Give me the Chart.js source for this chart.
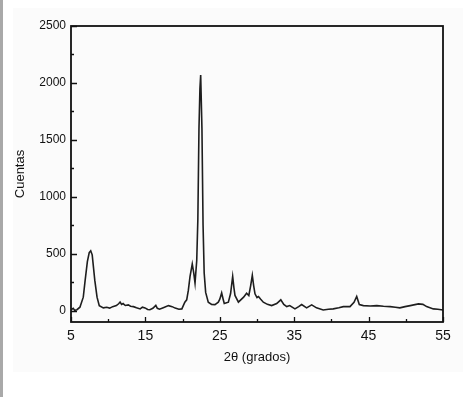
<!DOCTYPE html>
<html>
<head>
<meta charset="utf-8">
<script src="https://cdn.jsdelivr.net/npm/chart.js@4/dist/chart.umd.min.js"></script>
<style>
    html, body { margin: 0; padding: 0; background: #fff; }
    #wrap { width: 474px; height: 402px; position: relative; }
</style>
</head>
<body>
<div id="wrap"><canvas id="myChart"></canvas></div>
<script>
// 2theta positions (degrees) and counts
var twoTheta = [5.0, 5.3, 5.5, 5.8, 6.2, 6.65, 6.9, 7.2, 7.45, 7.65, 7.85, 8.2, 8.5, 8.8, 9.35, 9.8,
    10.2, 10.6, 11.1, 11.4, 11.6, 11.8, 12.0, 12.3, 12.7, 13.0, 13.4, 13.8, 14.3, 14.6, 14.95, 15.3,
    15.6, 16.0, 16.4, 16.6, 16.9, 17.4, 18.1, 18.6, 19.0, 19.5, 19.9, 20.3, 20.55, 20.77, 21.0, 21.3,
    21.5, 21.67, 21.9, 22.05, 22.2, 22.33, 22.43, 22.6, 22.75, 22.9, 23.1, 23.45, 23.9, 24.35, 24.8,
    25.0, 25.25, 25.45, 25.6, 26.15, 26.45, 26.73, 26.9, 27.04, 27.5, 28.2, 28.6, 28.9, 29.15, 29.37,
    29.55, 29.73, 30.0, 30.2, 30.5, 30.85, 31.4, 31.97, 32.65, 33.2, 33.6, 34.0, 34.4, 35.1, 35.6,
    36.0, 36.67, 37.35, 38.0, 38.9, 39.6, 40.25, 41.0, 41.6, 42.5, 43.04, 43.4, 43.75, 44.3, 45.2,
    46.1, 47.0, 47.9, 48.6, 49.2, 49.9, 50.6, 51.7, 52.3, 52.8, 53.7, 54.3, 55.0];
var counts = [8, 20, 2, 8, 30, 118, 265, 430, 510, 525, 490, 265, 118, 44, 24, 30,
    22, 35, 44, 60, 75, 55, 62, 45, 50, 38, 35, 25, 15, 30, 24, 10,
    8, 20, 46, 20, 12, 25, 44, 35, 22, 12, 15, 74, 95, 177, 300, 410,
    330, 242, 440, 800, 1600, 1950, 2070, 1600, 750, 330, 160, 74, 55, 53, 74,
    100, 155, 100, 62, 74, 150, 300, 200, 133, 74, 118, 153, 133, 220, 310,
    220, 148, 115, 124, 100, 74, 55, 44, 62, 95, 55, 35, 44, 15, 35,
    53, 24, 50, 24, 6, 12, 15, 25, 35, 35, 73, 124, 53, 44, 40,
    44, 38, 35, 30, 24, 35, 44, 59, 55, 35, 15, 12, 6];

var xTicks = [5, 10, 15, 20, 25, 30, 35, 40, 45, 50, 55];
var xLabeled = [5, 15, 25, 35, 45, 55];
var yTicks = [0, 250, 500, 750, 1000, 1250, 1500, 1750, 2000, 2250, 2500];
var yLabeled = [0, 500, 1000, 1500, 2000, 2500];

var points = twoTheta.map(function (t, i) { return { x: t, y: counts[i] }; });

// frame, background panel and inward tick marks
var framePlugin = {
    id: 'frame',
    beforeDraw: function (chart) {
        var c = chart.ctx;
        c.save();
        c.fillStyle = '#ffffff';
        c.fillRect(0, 0, chart.width, chart.height);
        c.fillStyle = '#fbfbfb';
        c.fillRect(13, 8, 450, 364);
        c.fillStyle = '#a9a9a9';
        c.fillRect(0, 0, 3, 397);
        c.restore();
    },
    afterDraw: function (chart) {
        var c = chart.ctx, a = chart.chartArea;
        var xs = chart.scales.x, ys = chart.scales.y;
        c.save();
        c.strokeStyle = '#111';
        c.lineWidth = 1.8;
        c.strokeRect(a.left, a.top, a.right - a.left, a.bottom - a.top);
        c.lineWidth = 1.3;
        c.beginPath();
        xTicks.forEach(function (v) {
            var px = Math.round(xs.getPixelForValue(v)) + 0.5;
            var len = xLabeled.indexOf(v) >= 0 ? 5 : 3;
            c.moveTo(px, a.bottom);
            c.lineTo(px, a.bottom - len);
        });
        yTicks.forEach(function (v) {
            var py = Math.round(ys.getPixelForValue(v)) + 0.5;
            var len = yLabeled.indexOf(v) >= 0 ? 6 : 3;
            c.moveTo(a.left, py);
            c.lineTo(a.left + len, py);
        });
        c.stroke();
        c.restore();
    }
};

var ctx = document.getElementById('myChart').getContext('2d');
var chart = new Chart(ctx, {
    type: 'line',
    data: {
        datasets: [{
            data: points,
            borderColor: '#1e1e1e',
            borderWidth: 1.6,
            pointRadius: 0,
            tension: 0,
            fill: false
        }]
    },
    options: {
        responsive: true,
        maintainAspectRatio: false,
        animation: false,
        layout: { padding: { left: 0, top: 26, right: 31, bottom: 0 } },
        plugins: { legend: { display: false }, tooltip: { enabled: false } },
        scales: {
            x: {
                type: 'linear',
                min: 5,
                max: 55,
                grid: { display: false, drawTicks: false },
                border: { display: false },
                afterBuildTicks: function (scale) {
                    scale.ticks = xTicks.map(function (v) { return { value: v }; });
                },
                afterFit: function (scale) { scale.height = 80; },
                ticks: {
                    autoSkip: false,
                    maxRotation: 0,
                    padding: 6,
                    color: '#111',
                    font: { family: "'Liberation Sans', Arial, sans-serif", size: 14 },
                    callback: function (v) { return xLabeled.indexOf(v) >= 0 ? String(v) : ''; }
                },
                title: {
                    display: true,
                    text: '2θ (grados)',
                    color: '#111',
                    padding: { top: 0, bottom: 37 },
                    font: { family: "'Liberation Sans', Arial, sans-serif", size: 13 }
                }
            },
            y: {
                min: -100,
                max: 2500,
                grid: { display: false, drawTicks: false },
                border: { display: false },
                afterBuildTicks: function (scale) {
                    scale.ticks = yTicks.map(function (v) { return { value: v }; });
                },
                afterFit: function (scale) { scale.width = 71; },
                ticks: {
                    autoSkip: false,
                    padding: 5,
                    color: '#111',
                    font: { family: "'Liberation Sans', Arial, sans-serif", size: 12 },
                    callback: function (v) { return yLabeled.indexOf(v) >= 0 ? String(v) : ''; }
                },
                title: {
                    display: true,
                    text: 'Cuentas',
                    color: '#111',
                    padding: { top: 13, bottom: 13 },
                    font: { family: "'Liberation Sans', Arial, sans-serif", size: 13 }
                }
            }
        }
    },
    plugins: [framePlugin]
});
</script>
</body>
</html>
